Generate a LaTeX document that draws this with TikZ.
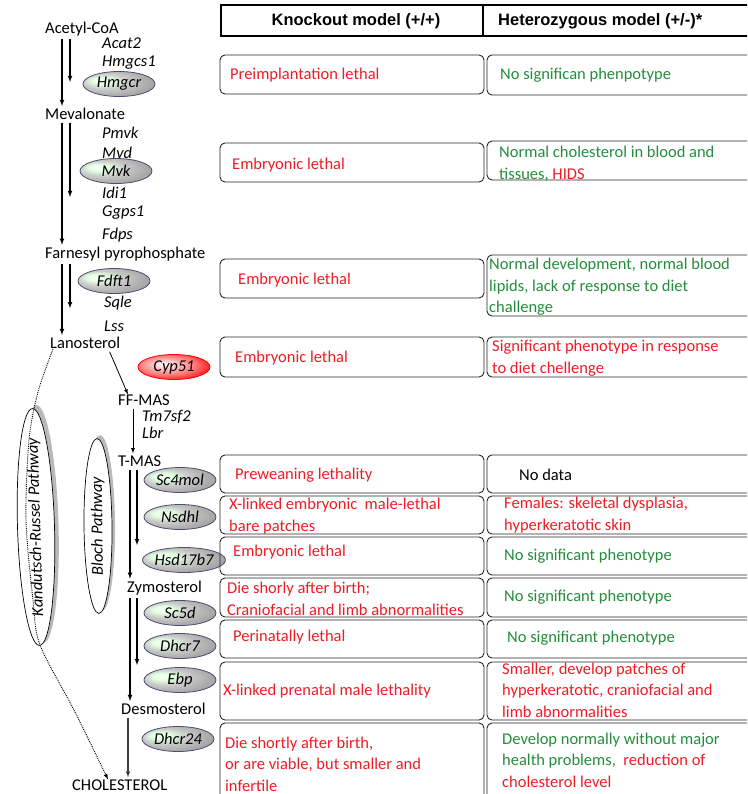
\documentclass[tikz,border=0pt]{standalone}
\usepackage{fontspec}
\setmainfont{Carlito}
\newfontfamily\headfont{Liberation Sans}
\usetikzlibrary{shapes.geometric}
\definecolor{koRed}{RGB}{237,28,36}
\definecolor{hetGreen}{RGB}{35,140,60}
\definecolor{geneEdge}{RGB}{72,78,112}
\pgfdeclareradialshading{genegray}{\pgfpoint{-14bp}{8bp}}{color(0bp)=(white); color(7bp)=(green!12!white); color(15bp)=(gray!40); color(25bp)=(gray!62); color(38bp)=(gray!85); color(50bp)=(gray!60!black)}
\pgfdeclareradialshading{genered}{\pgfpoint{-8bp}{6bp}}{color(0bp)=(white); color(8bp)=(red!22!white); color(20bp)=(red!55!white); color(32bp)=(red); color(50bp)=(red!90!black)}
\begin{document}
\begin{tikzpicture}[x=1pt,y=-1pt,>=latex,
  every node/.style={inner sep=0pt, font=\fontsize{16.5}{21.5}\selectfont},
  lbl/.style={anchor=west},
  gname/.style={anchor=west, font=\fontsize{16.5}{20}\selectfont\itshape},
  gene/.style={ellipse, draw=geneEdge, line width=0.8pt, shade, shading=genegray,
    minimum width=72pt, minimum height=25pt, font=\fontsize{16.5}{20}\selectfont\itshape},
  arr/.style={->, line width=1.1pt, shorten <=3pt, shorten >=2pt},
  box/.style={draw=black!85, line width=0.9pt, rounded corners=5pt},
  ko/.style={anchor=west, align=left, text=koRed},
  het/.style={anchor=west, align=left, text=hetGreen},
  pathway/.style={ellipse, draw, fill=white, line width=0.7pt, inner sep=0pt},
  shadow/.style={ellipse, fill=gray!55, inner sep=0pt},
  pathlabel/.style={font=\fontsize{16.5}{20}\selectfont\itshape}]
\clip (0,0) rectangle (747,794);

% metabolites
\node[lbl] (acetyl) at (45,29) {Acetyl-CoA};
\node[lbl] (meva) at (45,114) {Mevalonate};
\node[lbl] (farnesyl) at (45,254) {Farnesyl pyrophosphate};
\node[lbl] (lano) at (50,343) {Lanosterol};
\node[lbl] (ffmas) at (118,400) {FF-MAS};
\node[lbl] (tmas) at (118,461) {T-MAS};
\node[lbl] (zymo) at (127,588) {Zymosterol};
\node[lbl] (desmo) at (121,709) {Desmosterol};
\node[lbl] (chol) at (72,785) {CHOLESTEROL};

% enzymes without phenotype box
\node[gname] (acat) at (102,43) {Acat2};
\node[gname] (hmgcs) at (102,63) {Hmgcs1};
\node[gname] (pmvk) at (102,133) {Pmvk};
\node[gname] (mvd) at (102,153) {Mvd};
\node[gname] (idi) at (102,193) {Idi1};
\node[gname] (ggps) at (102,213) {Ggps1};
\node[gname] (fdps) at (102,235) {Fdps};
\node[gname] (sqle) at (104,303) {Sqle};
\node[gname] (lss) at (104,326) {Lss};
\node[gname] (tm7) at (142,417) {Tm7sf2};
\node[gname] (lbr) at (142,433) {Lbr};

% enzymes with mouse models
\node[gene] (hmgcr) at (119,84) {Hmgcr};
\node[gene] (mvk) at (116,171) {Mvk};
\node[gene] (fdft) at (114,281) {Fdft1};
\node[gene, draw=red, shading=genered] (cyp) at (174,367) {Cyp51};
\node[gene] (sc4) at (180,480) {Sc4mol};
\node[gene] (nsdhl) at (180,517) {Nsdhl};
\node[gene, minimum width=75pt] (hsd) at (184,560) {Hsd17b7};
\node[gene] (sc5d) at (180,613) {Sc5d};
\node[gene] (dhcr7) at (180,646) {Dhcr7};
\node[gene] (ebp) at (180,680) {Ebp};
\node[gene] (dhcr24) at (178,739) {Dhcr24};

% pathways
\node[shadow, rotate=91.7, minimum width=238pt, minimum height=37pt] at (40,524) {};
\node[pathway, rotate=91.7, minimum width=237pt, minimum height=37pt] (kr) at (36,527) {};
\node[shadow, rotate=90.6, minimum width=176pt, minimum height=28pt] at (101,523) {};
\node[pathway, rotate=90.6, minimum width=175pt, minimum height=28pt] (bloch) at (98,526) {};

% arrows
\coordinate (mainx) at (62,0);
\coordinate (sidex) at (70,0);
\draw[arr] (acetyl.south -| mainx) -- (meva.north -| mainx);
\draw[arr] (acetyl.south -| sidex) -- (hmgcr.center -| sidex);
\draw[arr] (meva.south -| mainx) -- (farnesyl.north -| mainx);
\draw[arr] (meva.south -| sidex) -- (idi.south -| sidex);
\draw[arr] (farnesyl.south -| mainx) -- (lano.north -| mainx);
\draw[arr] (farnesyl.south -| sidex) -- (sqle.south -| sidex);
\draw[->, line width=0.8pt, shorten <=3pt] ([xshift=-12pt]lano.south east) -- ([xshift=10pt]ffmas.north west);
\coordinate (ffx) at (133,0);
\draw[arr, line width=0.8pt] (ffmas.south -| ffx) -- (tmas.north -| ffx);
\coordinate (tmx) at (130,0);
\coordinate (tmy) at (137,0);
\draw[arr] (tmas.south -| tmx) -- (zymo.north -| tmx);
\draw[arr] (tmas.south -| tmy) -- (hsd.north -| tmy);
\draw[arr] (zymo.south -| tmx) -- (desmo.north -| tmx);
\draw[arr] (zymo.south -| tmy) -- (ebp.north -| tmy);
\coordinate (dsx) at (128,0);
\draw[arr, draw=black!75] (desmo.south -| dsx) -- (chol.north -| dsx);
\draw[->, densely dotted, line width=0.9pt] plot[smooth] coordinates {([xshift=3pt]lano.south west) (38,392) (29,440) (26,520) (33,600) (40,645) (75,712) ([xshift=36pt]chol.north west)};

% pathway names
\node[pathlabel, rotate=91.7] (krlabel) at (kr) {Kandutsch-Russel Pathway};
\node[pathlabel, rotate=90.6] (blochlabel) at (bloch) {Bloch Pathway};

% table header
\draw[line width=2.5pt] (221,5) rectangle (760,36);
\draw[line width=2.5pt] (483,5) -- (483,36);
\node[font=\headfont\bfseries\fontsize{16.5}{20}\selectfont] (kohead) at (356,21) {Knockout model (+/+)};
\node[font=\headfont\bfseries\fontsize{16.5}{20}\selectfont, anchor=west] (hethead) at (498,21) {Heterozygous model (+/-)*};

% rows
\draw[box] (220,55) rectangle (484,94);
\draw[box] (487,55) rectangle (760,95);
\node[ko] (ko1) at (230,75) {Preimplantation lethal};
\node[het] (het1) at (500,75) {No significan phenpotype};

\draw[box] (220,143) rectangle (484,182);
\draw[box] (487,141) rectangle (760,180);
\node[ko] (ko2) at (232,165) {Embryonic lethal};
\node[het] (het2) at (499,164) {Normal cholesterol in blood and\\tissues, {\color{koRed}HIDS}};

\draw[box] (220,259) rectangle (484,298);
\draw[box] (487,255) rectangle (760,316);
\node[ko] (ko3) at (238,280) {Embryonic lethal};
\node[het] (het3) at (489,287) {Normal development, normal blood\\lipids, lack of response to diet\\challenge};

\draw[box] (220,337) rectangle (484,377);
\draw[box] (487,337) rectangle (760,377);
\node[ko] (ko4) at (235,358) {Embryonic lethal};
\node[het, text=koRed] (het4) at (492,358) {Significant phenotype in response\\to diet chellenge};

\draw[box] (220,455) rectangle (484,493);
\draw[box] (487,455) rectangle (760,493);
\node[ko] (ko5) at (235,475) {Preweaning lethality};
\node[het, text=black] (het5) at (519,475) {No data};

\draw[box] (220,496) rectangle (484,534);
\draw[box] (487,496) rectangle (760,534);
\node[ko] (ko6) at (229,516) {X-linked embryonic\ \ male-lethal\\bare patches};
\node[het, text=koRed] (het6) at (504,515) {Females: skeletal dysplasia,\\hyperkeratotic skin};

\draw[box] (220,537) rectangle (484,575);
\draw[box] (487,537) rectangle (760,575);
\node[ko] (ko7) at (233,552) {Embryonic lethal};
\node[het] (het7) at (504,556) {No significant phenotype};

\draw[box] (220,578) rectangle (484,617);
\draw[box] (487,578) rectangle (760,617);
\node[ko] (ko8) at (227,599) {Die shorly after birth;\\Craniofacial and limb abnormalities};
\node[het] (het8) at (504,597) {No significant phenotype};

\draw[box] (220,620) rectangle (484,658);
\draw[box] (487,620) rectangle (760,658);
\node[ko] (ko9) at (233,637) {Perinatally lethal};
\node[het] (het9) at (507,638) {No significant phenotype};

\draw[box] (220,662) rectangle (484,720);
\draw[box] (487,662) rectangle (760,720);
\node[ko] (ko10) at (223,691) {X-linked prenatal male lethality};
\node[het, text=koRed] (het10) at (502,690) {Smaller, develop patches of\\hyperkeratotic, craniofacial and\\limb abnormalities};

\draw[box] (220,723) rectangle (484,810);
\draw[box] (487,723) rectangle (760,810);
\node[ko] (ko11) at (225,764) {Die shortly after birth,\\or are viable, but smaller and\\infertile};
\node[het] (het11) at (502,760) {Develop normally without major\\health problems,\ \ {\color{koRed}reduction of}\\{\color{koRed}cholesterol level}};
\end{tikzpicture}
\end{document}
